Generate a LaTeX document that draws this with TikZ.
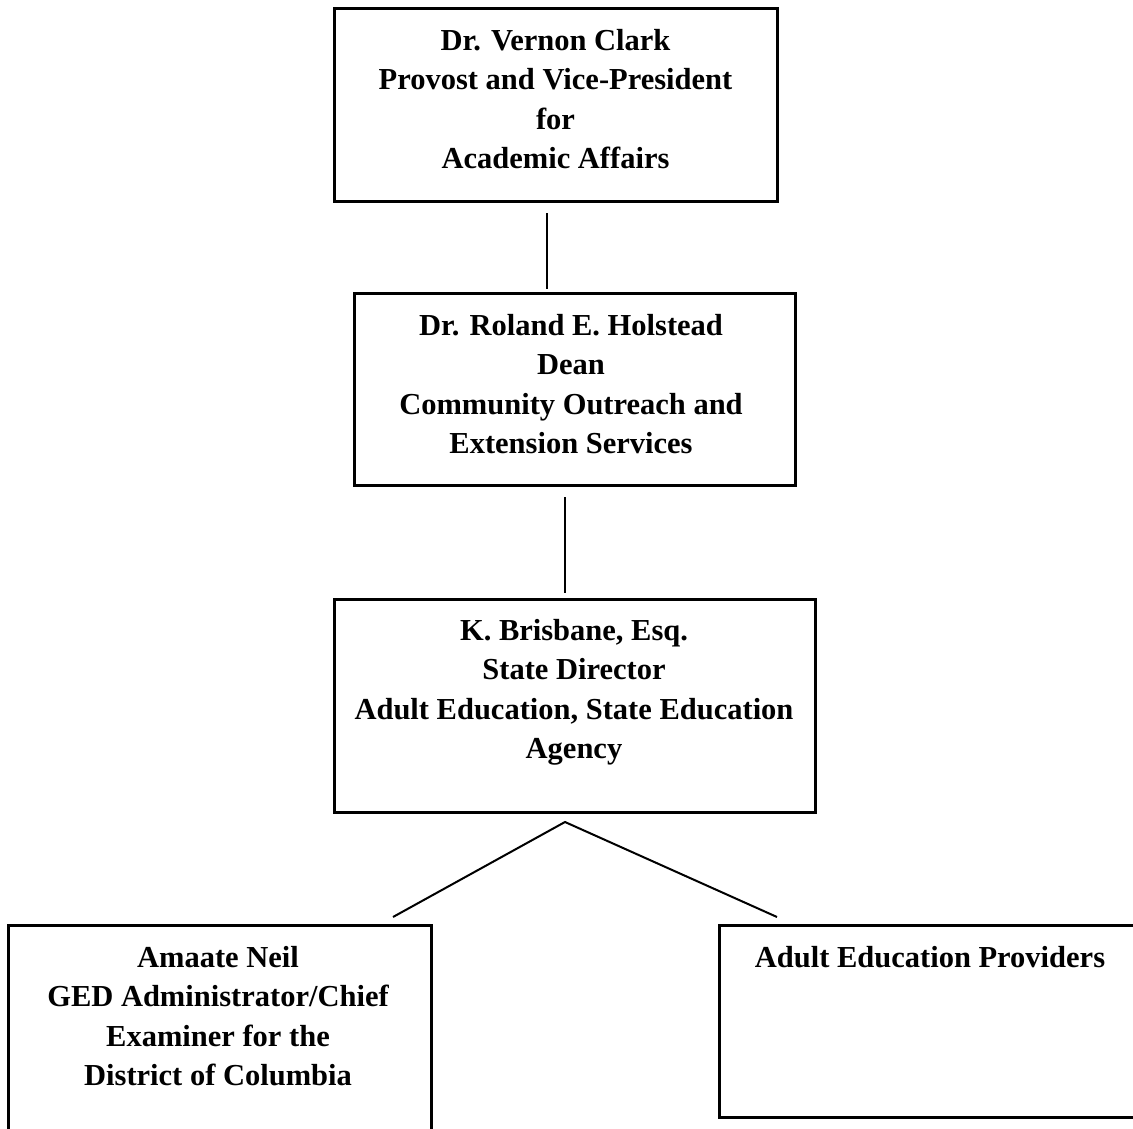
\documentclass[tikz,border=0pt]{standalone}
\usepackage{fontspec}
\setmainfont{Liberation Serif}
\usepackage{tikz}
\usetikzlibrary{positioning}

\begin{document}
\begin{tikzpicture}[x=1pt,y=-1pt,
    office/.style={draw,line width=3pt,inner sep=0pt,outer sep=0pt},
    title/.style={anchor=base,align=center,inner sep=0pt,font=\fontsize{30.5}{39.5}\selectfont\bfseries},
    link/.style={line width=2pt}]
  \useasboundingbox (0,0) rectangle (1133,1129);
  \clip (0,0) rectangle (1133,1129);
  % the boxes
  \node (provost)   [office,minimum width=443pt,minimum height=192pt] at (555.5,105)   {};
  \node (dean)      [office,minimum width=441pt,minimum height=192pt] at (574.5,389)   {};
  \node (director)  [office,minimum width=481pt,minimum height=213pt] at (574.5,705.5) {};
  \node (ged)       [office,minimum width=423pt,minimum height=230pt] at (219.5,1040)  {};
  \node (providers) [office,minimum width=422pt,minimum height=192pt] at (930,1021)    {};
  % the texts (base = last line)
  \node (provosttxt)   [title] at (555.5,168.5) {Dr. Vernon Clark\\Provost and Vice-President\\for\\Academic Affairs};
  \node (deantxt)      [title] at (571,453.5)   {Dr. Roland E. Holstead\\Dean\\Community Outreach and\\Extension Services};
  \node (directortxt)  [title] at (574,758.5)   {K. Brisbane, Esq.\\State Director\\Adult Education, State Education\\Agency};
  \node (gedtxt)       [title] at (218,1085.5)  {Amaate Neil\\GED Administrator/Chief\\Examiner for the\\District of Columbia};
  \node (providerstxt) [title] at (930,967)     {Adult Education Providers};
  % the lines
  \draw[link] ([xshift=-8.5pt,yshift=-12pt]provost.south) -- ([xshift=-27.5pt,yshift=4pt]dean.north);
  \draw[link] ([xshift=-9.5pt,yshift=-12pt]dean.south) -- ([xshift=-9.5pt,yshift=6pt]director.north);
  \coordinate (fork) at ([xshift=-9.5pt,yshift=-10pt]director.south);
  \draw[link] ([xshift=173.5pt,yshift=8pt]ged.north) -- (fork) -- ([xshift=-153pt,yshift=8pt]providers.north);
\end{tikzpicture}
\end{document}
